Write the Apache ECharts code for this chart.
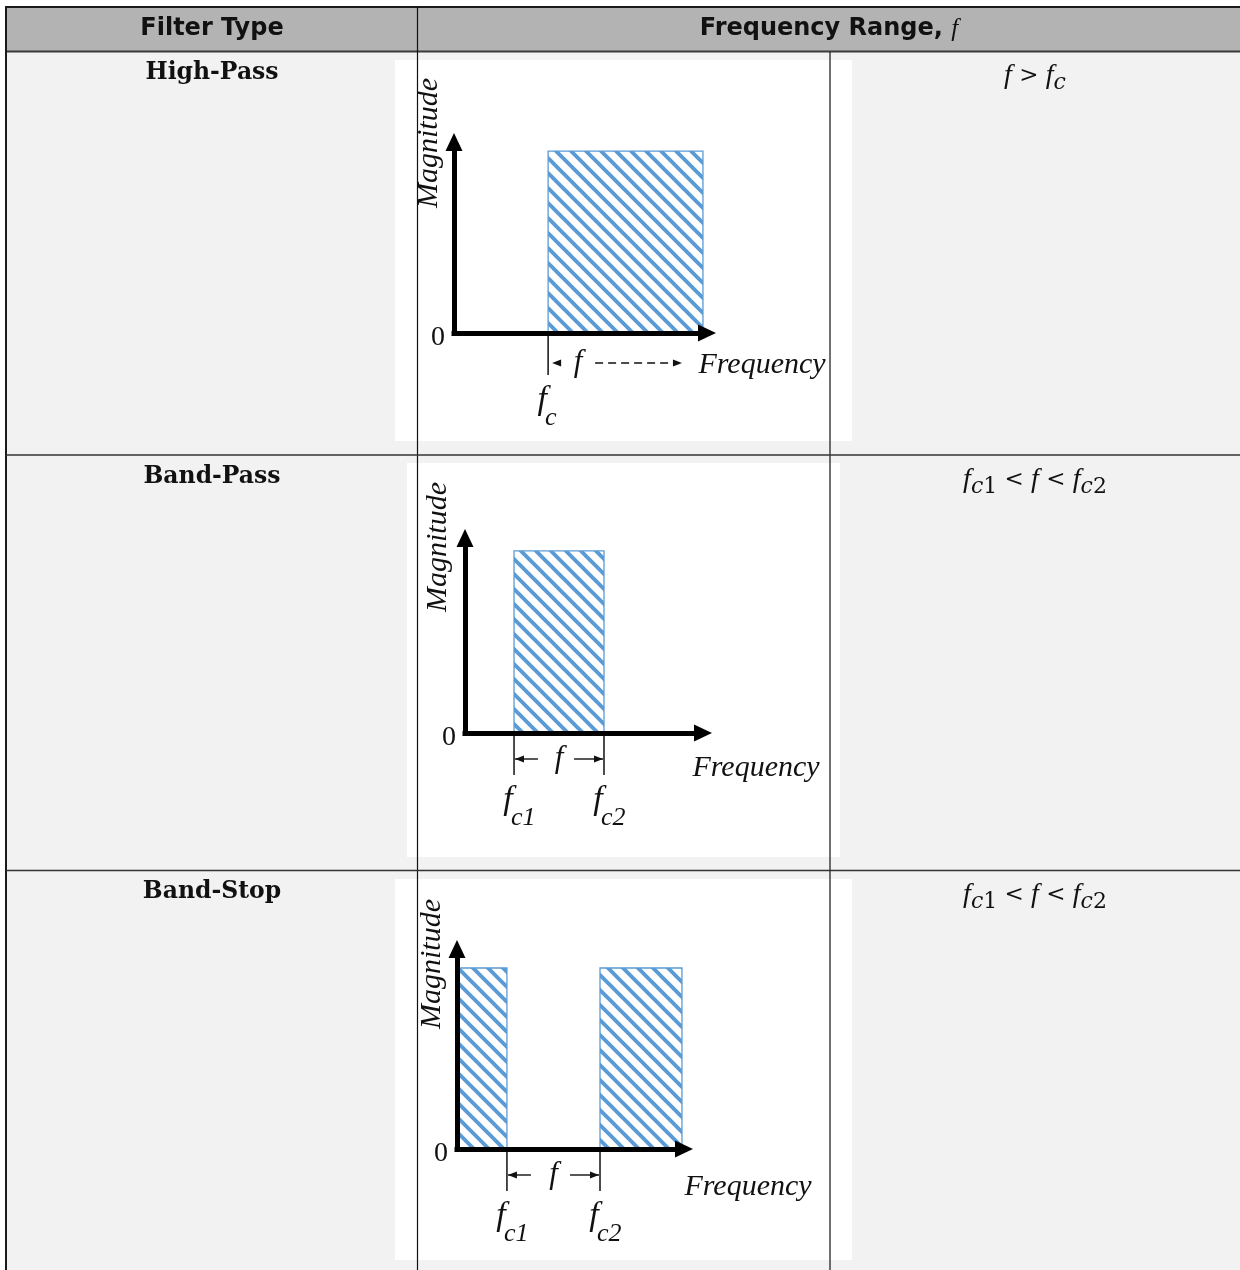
<!DOCTYPE html>
<html><head><meta charset="utf-8">
<script src="https://cdn.jsdelivr.net/npm/echarts@6/dist/echarts.min.js"></script>
<style>html,body{margin:0;padding:0;background:#fff}#c{width:1240px;height:1270px}</style>
</head><body><div id="c"></div><script>
// ---------- data ----------
const headerTitles = ['Filter Type', 'Frequency Range, '];
const filterTypes = ['High-Pass', 'Band-Pass', 'Band-Stop'];
const axisTitleX = 'Frequency';
const axisTitleY = 'Magnitude';
// pass bands per filter: [startFreq, endFreq, magnitude] (arbitrary frequency units 0..10)
const passBandsHigh = [[3.72, 9.84, 1]];
const passBandsBand = [[2.06, 5.84, 1]];
const passBandsStop = [[0, 2.2, 1], [6.3, 9.91, 1]];
// cutoff frequencies: [freq, subscript]
const cutoffsHigh = [[3.72, 'c']];
const cutoffsBand = [[2.06, 'c1'], [5.84, 'c2']];
const cutoffsStop = [[2.2, 'c1'], [6.3, 'c2']];
// range indicator: [from, to, kind]
const spanHigh = [[3.72, 9.01, 'open']];
const spanBand = [[2.06, 5.84, 'closed']];
const spanStop = [[2.2, 6.3, 'closed']];
const rangeFormulas = [
  '{i|f} {n|>} {i|f}{si|c}',
  '{i|f}{si|c}{sn|1} {n|<} {i|f} {n|<} {i|f}{si|c}{sn|2}',
  '{i|f}{si|c}{sn|1} {n|<} {i|f} {n|<} {i|f}{si|c}{sn|2}'
];

const passBands = [passBandsHigh, passBandsBand, passBandsStop];
const cutoffs = [cutoffsHigh, cutoffsBand, cutoffsStop];
const spans = [spanHigh, spanBand, spanStop];

// ---------- layout ----------
const grids = [
  {left: 454, top: 142, width: 253, height: 191, ymax: 1.05},
  {left: 465, top: 538, width: 238, height: 195, ymax: 1.071},
  {left: 457, top: 949, width: 227, height: 200, ymax: 1.105}
];
const rowLabelY = [73, 477, 892];
const formulaY = [76, 480, 895];
const magPos = [[429, 143], [438, 547], [432, 964]];
const freqPos = [[762, 365], [756, 768], [748, 1187]];
const whiteBoxes = [[395, 60, 457, 381], [407, 463, 433, 394], [395, 879, 457, 381]];

const BLUE = '#5b9bd5';
function makeHatch() {
  const n = 15;
  const c = document.createElement('canvas');
  c.width = n; c.height = n;
  const g = c.getContext('2d');
  g.fillStyle = '#fff'; g.fillRect(0, 0, n, n);
  g.strokeStyle = BLUE; g.lineWidth = 3.8; g.lineCap = 'square';
  for (let k = -1; k <= 1; k++) {
    g.beginPath(); g.moveTo(k * n - 4, -4); g.lineTo(k * n + n + 4, n + 4); g.stroke();
  }
  return c;
}
const hatch = {image: makeHatch(), repeat: 'repeat'};
const SERIF = '"Liberation Serif", "Times New Roman", serif';

function txt(x, y, text, font, extra) {
  return {
    type: 'text', x: x, y: y, z: 50,
    style: Object.assign({text: text, font: font, fill: '#111',
      align: 'center', textAlign: 'center', verticalAlign: 'middle', textVerticalAlign: 'middle'}, extra || {})
  };
}

const graphic = [];
// backgrounds
graphic.push({type: 'rect', z: -10, shape: {x: 7, y: 8, width: 1233, height: 44}, style: {fill: '#b3b3b3'}});
graphic.push({type: 'rect', z: -10, shape: {x: 7, y: 52, width: 1233, height: 1218}, style: {fill: '#f2f2f2'}});
whiteBoxes.forEach(b => graphic.push({type: 'rect', z: -9, shape: {x: b[0], y: b[1], width: b[2], height: b[3]}, style: {fill: '#fff'}}));
// table lines
function ln(x1, y1, x2, y2, w, c) {
  return {type: 'line', z: 40, shape: {x1: x1, y1: y1, x2: x2, y2: y2}, style: {stroke: c || '#222', lineWidth: w}};
}
graphic.push(ln(5, 7, 1240, 7, 2, '#1a1a1a'));
graphic.push(ln(6, 51.5, 1240, 51.5, 2, '#3a3a3a'));
graphic.push(ln(6, 6, 6, 1270, 2, '#1a1a1a'));
graphic.push(ln(417.5, 7, 417.5, 1270, 1.2, '#111'));
graphic.push(ln(830, 52, 830, 1270, 1.2, '#111'));
graphic.push(ln(6, 455, 1240, 455, 1.6, '#333'));
graphic.push(ln(6, 870.5, 1240, 870.5, 1.6, '#333'));
// header text
graphic.push(txt(212, 29, headerTitles[0], 'bold 24px "DejaVu Sans", sans-serif'));
graphic.push(txt(829, 29, '{b|' + headerTitles[1] + '}{f|f}', 'bold 24px "DejaVu Sans", sans-serif', {
  rich: {
    b: {font: 'bold 24px "DejaVu Sans", sans-serif', fill: '#111'},
    f: {font: 'italic 25px ' + SERIF, fill: '#111'}
  }
}));
// row labels + formulas + axis titles
const fRich = {
  i: {font: 'italic 28px ' + SERIF, fill: '#111'},
  n: {font: '23px "DejaVu Serif", serif', fill: '#111'},
  si: {font: 'italic 22px "DejaVu Serif", serif', fill: '#111', padding: [14, 0, 0, 0]},
  sn: {font: '22px "DejaVu Serif", serif', fill: '#111', padding: [14, 0, 0, 0]}
};
filterTypes.forEach((name, i) => {
  graphic.push(txt(212, rowLabelY[i], name, 'bold 23.5px "DejaVu Serif", serif'));
  graphic.push(txt(1035, formulaY[i], rangeFormulas[i], '23px "DejaVu Serif", serif', {rich: fRich}));
  graphic.push(Object.assign(txt(magPos[i][0], magPos[i][1], axisTitleY, 'italic 30px ' + SERIF), {rotation: Math.PI / 2}));
  graphic.push(txt(freqPos[i][0], freqPos[i][1], axisTitleX, 'italic 30px ' + SERIF));
});

// ---------- series renderers ----------
function bandRender(params, api) {
  const p0 = api.coord([api.value(0), 0]);
  const p1 = api.coord([api.value(1), api.value(2)]);
  return {type: 'rect', shape: {x: p0[0], y: p1[1], width: p1[0] - p0[0], height: p0[1] - p1[1]},
    style: {fill: hatch, stroke: BLUE, lineWidth: 1.3}};
}
function cutoffRender(row) {
  return function (params, api) {
    const item = cutoffs[row][params.dataIndex];
    const p = api.coord([item[0], 0]);
    return {type: 'group', children: [
      {type: 'line', shape: {x1: p[0], y1: p[1], x2: p[0], y2: p[1] + 42}, style: {stroke: '#111', lineWidth: 1.5}},
      {type: 'text', x: p[0] - 6, y: p[1] + 67, style: {text: 'f', font: 'italic 34px ' + SERIF, fill: '#111', align: 'center', verticalAlign: 'middle'}},
      {type: 'text', x: p[0] - 3, y: p[1] + 85, style: {text: item[1], font: 'italic 26px ' + SERIF, fill: '#111', align: 'left', verticalAlign: 'middle'}}
    ]};
  };
}
function spanRender(row) {
  return function (params, api) {
    const s = spans[row][params.dataIndex];
    const a = api.coord([s[0], 0]);
    const b = api.coord([s[1], 0]);
    const open = s[2] === 'open';
    const y = a[1] + (open ? 30 : 26);
    const head = (x, dir) => ({type: 'polygon', shape: {points: [[x, y], [x + dir * 9, y - 3.5], [x + dir * 9, y + 3.5]]}, style: {fill: '#111'}});
    const fText = (x) => ({type: 'text', x: x, y: y, style: {text: 'f', font: 'italic 31px ' + SERIF, fill: '#111', align: 'center', verticalAlign: 'middle'}});
    const kids = [];
    if (open) {
      kids.push(head(a[0] + 4, 1));
      kids.push(fText(a[0] + 30));
      kids.push({type: 'line', shape: {x1: a[0] + 47, y1: y, x2: b[0] - 8, y2: y}, style: {stroke: '#111', lineWidth: 1.4, lineDash: [8, 5]}});
      kids.push(head(b[0], -1));
    } else {
      kids.push({type: 'line', shape: {x1: a[0] + 1, y1: y, x2: a[0] + 24, y2: y}, style: {stroke: '#111', lineWidth: 1.4}});
      kids.push(head(a[0] + 1, 1));
      kids.push(fText((a[0] + b[0]) / 2));
      kids.push({type: 'line', shape: {x1: b[0] - 30, y1: y, x2: b[0] - 1, y2: y}, style: {stroke: '#111', lineWidth: 1.4}});
      kids.push(head(b[0] - 1, -1));
    }
    return {type: 'group', children: kids};
  };
}

const axisLine = {show: true, onZero: false, symbol: ['none', 'triangle'], symbolSize: [17, 18],
  lineStyle: {color: '#000', width: 5, cap: 'square'}};
const option = {
  animation: false,
  backgroundColor: '#fff',
  graphic: {elements: graphic},
  grid: grids.map(g => ({left: g.left, top: g.top, width: g.width, height: g.height, outerBoundsMode: 'none', containLabel: false})),
  xAxis: grids.map((g, i) => ({gridIndex: i, type: 'value', min: 0, max: 10, z: 5,
    axisLine: axisLine, axisTick: {show: false}, axisLabel: {show: false}, splitLine: {show: false}})),
  yAxis: grids.map((g, i) => ({gridIndex: i, type: 'value', min: 0, max: g.ymax, z: 5,
    axisLine: axisLine, axisTick: {show: false}, splitLine: {show: false},
    axisLabel: {show: true, margin: 9, formatter: v => (v === 0 ? '0' : ''), fontFamily: 'Liberation Serif', fontSize: 28, color: '#111',
      verticalAlign: 'top', lineHeight: 10}})),
  series: []
};
for (let i = 0; i < 3; i++) {
  option.series.push({type: 'custom', xAxisIndex: i, yAxisIndex: i, z: 1, data: passBands[i], renderItem: bandRender, silent: true});
  option.series.push({type: 'custom', xAxisIndex: i, yAxisIndex: i, z: 3, data: cutoffs[i].map(c => [c[0]]), renderItem: cutoffRender(i), silent: true});
  option.series.push({type: 'custom', xAxisIndex: i, yAxisIndex: i, z: 3, data: spans[i].map(s => [s[0], s[1]]), renderItem: spanRender(i), silent: true});
}
const chart = echarts.init(document.getElementById('c'), null, {renderer: 'canvas'});
chart.setOption(option);
</script></body></html>
